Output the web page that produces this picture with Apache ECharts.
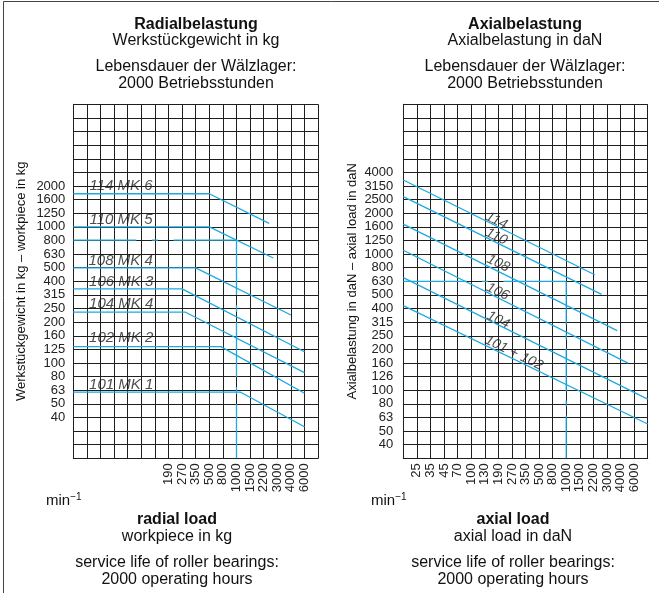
<!DOCTYPE html>
<html><head><meta charset="utf-8">
<script src="https://cdn.jsdelivr.net/npm/echarts@6/dist/echarts.min.js"></script>
<style>html,body{margin:0;padding:0;background:#fff}#c{width:659px;height:593px}</style>
</head><body><div id="c"></div>
<script>
// ---------- tick labels ----------
// y ticks: R10 preferred numbers; axis value = 10*log10(load), first label sits at value 16 (=40)
const radialYTicks = ['40','50','63','80','100','125','160','200','250','315','400','500','630','800','1000','1250','1600','2000'];
const axialYTicks  = ['40','50','63','80','100','126','160','200','250','315','400','500','630','800','1000','1250','1600','2000','2500','3150','4000'];
// x ticks: speed steps (min^-1), one per grid column
const radialSpeeds = ['','','','','','','','190','270','350','500','800','1000','1500','2200','3000','4000','6000',''];
const axialSpeeds  = ['','25','35','45','70','100','130','190','270','350','500','800','1000','1500','2200','3000','4000','6000',''];

// ---------- series: [speed step index, load] ----------
const radial114 = [[0,1750],[10,1750],[14.4,1060]];
const radial110 = [[0,1000],[10,1000],[14.7,590]];
const radial108 = [[0,500],[9,500],[16,225]];
const radial106 = [[0,350],[8,350],[17,121]];
const radial104 = [[0,236],[8.25,236],[17,85]];
const radial102 = [[0,132],[10.85,132],[17,60]];
const radial101 = [[0,61],[12.3,61],[17,34]];
const radialReadH = [[0,800],[12,800]];
const radialReadV = [[12,800],[12,20]];

const axial114 = [[0,3500],[14.1,705]];
const axial110 = [[0,2640],[14.6,506]];
const axial108 = [[0,1660],[15.75,274]];
const axial106 = [[0,1066],[16.55,158]];
const axial104 = [[0,672],[18,86]];
const axial101 = [[0,418],[18,56.5]];
const axialReadH = [[0,630],[12,630]];
const axialReadV = [[12,630],[12,31.6]];

// ---------- curve labels ----------
const radialNames = ['114 MK 6','110 MK 5','108 MK 4','106 MK 3','104 MK 4','102 MK 2','101 MK 1'];
const radialNameAt = [[1.19,2000],[1.19,1135],[1.12,564],[1.16,395],[1.16,274],[1.16,152],[1.16,69.7]];
const axialNames = ['114','110','108','106','104','101 + 102'];
const axialNameAt = [[6.86,1758],[6.86,1343],[6.99,855],[6.96,530],[6.99,328],[8.15,188]];

const FONT = '"Liberation Sans", Arial, Helvetica, sans-serif';
const BLUE = '#1ea9e1';
const GRID = '#1e1e1e';
const lg = v => 10*Math.log10(v);

const chart = echarts.init(document.getElementById('c'), null, {renderer:'canvas'});

function xAxis(gi, labels){
  return {type:'value', gridIndex:gi, min:0, max:18, interval:1,
    axisLine:{show:true, lineStyle:{color:GRID,width:1}}, axisTick:{show:false},
    splitLine:{show:true, lineStyle:{color:GRID,width:1}},
    axisLabel:{rotate:90, margin:5, fontSize:13, color:'#222', fontFamily:FONT,
      formatter: v => labels[Math.round(v)] || ''}};
}
function yAxis(gi, min, max, ticks, margin){
  return {type:'value', gridIndex:gi, min:min, max:max, interval:1,
    axisLine:{show:true, lineStyle:{color:GRID,width:1}}, axisTick:{show:false},
    splitLine:{show:true, lineStyle:{color:GRID,width:1}},
    axisLabel:{margin:margin, fontSize:13, color:'#222', fontFamily:FONT,
      formatter: v => ticks[Math.round(v)-16] || ''}};
}
function line(gi, pts, dash, offset){
  return {type:'line', xAxisIndex:gi, yAxisIndex:gi, silent:true, animation:false, z:3,
    data: pts.map(p => [p[0], lg(p[1])]), symbol:'none',
    lineStyle:{color:BLUE, width:1.3, type: dash || 'solid', dashOffset: offset || 0}};
}
function names(gi, txt, at, rot, size){
  return {type:'scatter', xAxisIndex:gi, yAxisIndex:gi, silent:true, animation:false, z:4,
    symbolSize:0,
    data: at.map((p,i) => ({value:[p[0], lg(p[1])], name: txt[i]})),
    label:{show:true, formatter: p => p.name, position: rot ? 'inside' : 'right', distance:0,
      rotate: rot || 0, fontStyle:'italic', fontSize:size, color:'#222', fontFamily:FONT}};
}

function txt(x, y, s, opt){
  return {type:'text', x:x, y:y, style:Object.assign({text:s, fill:'#111', font:'16px '+FONT, textAlign:'center', textVerticalAlign:'middle'}, opt||{})};
}
function minus1(x, y){
  return {type:'text', x:x, y:y, style:{text:'{a|min}{b|−1}', textVerticalAlign:'middle',
     rich:{a:{font:'15px '+FONT, fill:'#111'}, b:{font:'10px '+FONT, fill:'#111', verticalAlign:'top', padding:[0,0,7,0]}}}};
}

const graphics = [
  {type:'line', shape:{x1:3.5,y1:1.5,x2:659,y2:1.5}, style:{stroke:'#444',lineWidth:1}},
  {type:'line', shape:{x1:3.5,y1:1.5,x2:3.5,y2:593}, style:{stroke:'#444',lineWidth:1}},
  txt(196,25,'Radialbelastung',{font:'bold 16px '+FONT}),
  txt(196,41,'Werkstückgewicht in kg'),
  txt(196,67,'Lebensdauer der Wälzlager:'),
  txt(196,84,'2000 Betriebsstunden'),
  txt(525,25,'Axialbelastung',{font:'bold 16px '+FONT}),
  txt(525,41,'Axialbelastung in daN'),
  txt(525,67,'Lebensdauer der Wälzlager:'),
  txt(525,84,'2000 Betriebsstunden'),
  txt(177,520,'radial load',{font:'bold 16px '+FONT}),
  txt(177,537,'workpiece in kg'),
  txt(177,563,'service life of roller bearings:'),
  txt(177,580,'2000 operating hours'),
  txt(513,520,'axial load',{font:'bold 16px '+FONT}),
  txt(513,537,'axial load in daN'),
  txt(513,563,'service life of roller bearings:'),
  txt(513,580,'2000 operating hours'),
  minus1(46, 501),
  minus1(371, 501),
  {type:'text', x:21, y:281.3, rotation:Math.PI/2, style:{text:'Werkstückgewicht in kg – workpiece in kg', fill:'#111', font:'13px '+FONT, textAlign:'center', textVerticalAlign:'middle'}},
  {type:'text', x:352, y:281.3, rotation:Math.PI/2, style:{text:'Axialbelastung in daN – axial load in daN', fill:'#111', font:'13px '+FONT, textAlign:'center', textVerticalAlign:'middle'}}
];

chart.setOption({
  animation:false,
  grid:[{left:73.3, top:104.3, width:244.8, height:354},
        {left:403.3, top:104.3, width:244.4, height:354}],
  xAxis:[xAxis(0, radialSpeeds), xAxis(1, axialSpeeds)],
  yAxis:[yAxis(0, 13, 39, radialYTicks, 8), yAxis(1, 15, 41, axialYTicks, 10)],
  series:[
    line(0, radial114), line(0, radial110), line(0, radial108), line(0, radial106),
    line(0, radial104), line(0, radial102), line(0, radial101),
    line(0, radialReadH, [63,15.6,6,15.6]), line(0, radialReadV, [55,10,7,10]),
    names(0, radialNames, radialNameAt, 0, 15),
    line(1, axial114), line(1, axial110), line(1, axial108), line(1, axial106),
    line(1, axial104), line(1, axial101),
    line(1, axialReadH, [63,15.6,6,15.6]), line(1, axialReadV, [43,9,6,9]),
    names(1, axialNames, axialNameAt, -26, 14)
  ],
  graphic: graphics
});
</script>
</body></html>
